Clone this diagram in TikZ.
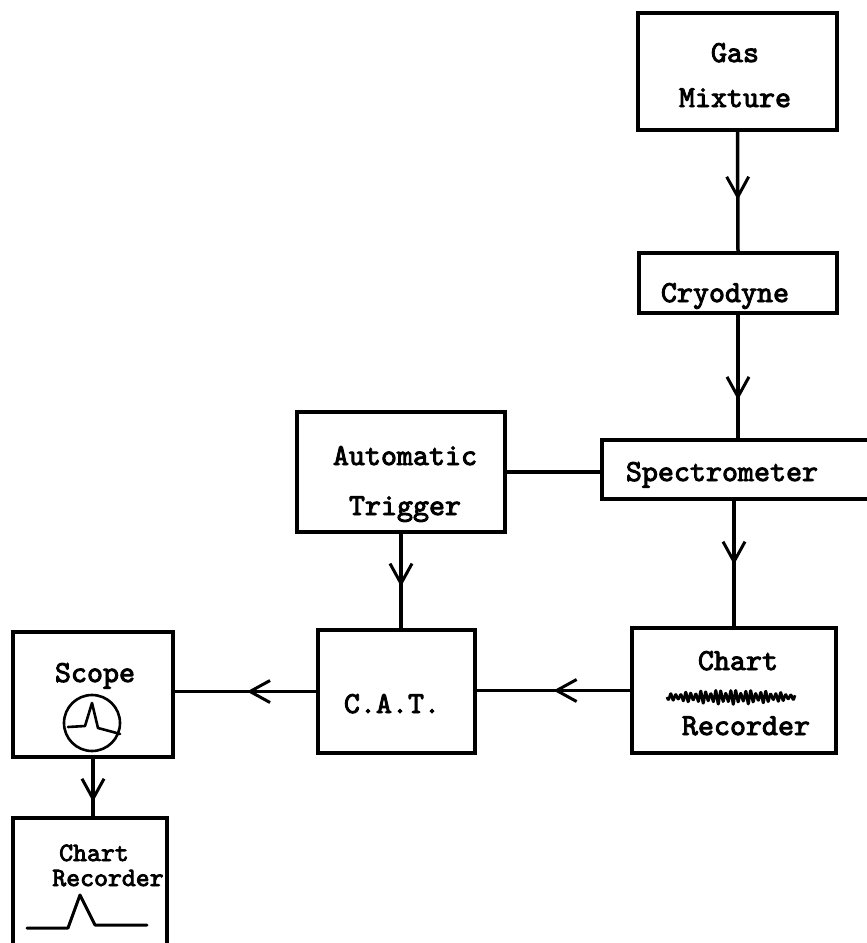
\documentclass[tikz,border=0pt]{standalone}
\usepackage{fontspec}
\newfontfamily\typew[FakeBold=3]{lmmono10-regular.otf}
\usetikzlibrary{arrows.meta,decorations.markings}
\tikzset{
  box/.style={draw, line width=3.5pt, inner sep=0pt},
  lbl/.style={anchor=base, inner sep=0pt, font=\typew\fontsize{30.5}{30}\selectfont},
  lblsmall/.style={anchor=base, inner sep=0pt, font=\typew\fontsize{26.5}{26}\selectfont},
  wire/.style={line width=3.5pt},
  arrowat/.style={postaction={decorate}, decoration={markings,
     mark=at position #1 with {\arrow{Straight Barb[length=20pt,width=22pt,line width=3pt]}}}},
  trace/.style={line width=2.6pt, line join=round, line cap=round}
}
\begin{document}
\begin{tikzpicture}[x=1pt,y=-1pt]
\clip (0,0) rectangle (867,943);
\fill[white] (0,0) rectangle (867,943);

% boxes
\node[box, minimum width=199pt, minimum height=117pt] (gas) at (737.5,71.5) {};
\node[box, minimum width=198pt, minimum height=60pt] (cryo) at (738,283) {};
\node[box, minimum width=298pt, minimum height=59pt] (spec) at (751,469.5) {};
\node[box, minimum width=208pt, minimum height=120pt] (trig) at (401,472) {};
\node[box, minimum width=157pt, minimum height=123pt] (cat) at (396.5,691.5) {};
\node[box, minimum width=204pt, minimum height=125pt] (chart) at (734,690.5) {};
\node[box, minimum width=160pt, minimum height=125pt] (scope) at (93,694.5) {};
\node[box, minimum width=154pt, minimum height=142pt] (chartb) at (90,889) {};

% labels
\node[lbl] (t-gas) at (735,62) {Gas};
\node[lbl] (t-mix) at (735,107) {Mixture};
\node[lbl] (t-cryo) at (725,302) {Cryodyne};
\node[lbl] (t-spec) at (722,481) {Spectrometer};
\node[lbl] (t-auto) at (405,465) {Automatic};
\node[lbl] (t-trig) at (405,515) {Trigger};
\node[lbl] (t-cat) at (392,713) {C.A.T.};
\node[lbl] (t-chart) at (738,670) {Chart};
\node[lbl] (t-rec) at (746,735) {Recorder};
\node[lbl] (t-scope) at (95,682) {Scope};
\node[lblsmall] (t-chartb) at (94,861) {Chart};
\node[lblsmall] (t-recb) at (108,886) {Recorder};

% connectors
\draw[wire, arrowat=0.57] (gas.south) -- (cryo.north);
\draw[wire, arrowat=0.69] (cryo.south) -- (cryo.south |- spec.north);
\draw[wire, arrowat=0.51] (chart.north |- spec.south) -- (chart.north);
\draw[wire] (trig.east) -- (trig.east -| spec.west);
\draw[wire, arrowat=0.56] (trig.south) -- (trig.south |- cat.north);
\draw[wire, arrowat=0.5] (chart.west) -- (chart.west -| cat.east);
\draw[wire, arrowat=0.49] (cat.west) -- (cat.west -| scope.east);
\draw[wire, arrowat=0.75] (scope.south) -- (scope.south |- chartb.north);

% scope screen
\draw[trace] (92,723) circle[radius=28];
\draw[trace] (68,727) -- (85,726) -- (92,703) -- (98,728) -- (113,732) -- (120,734);

% chart recorder trace (noisy)
\draw[line width=2.6pt, line join=round] plot[domain=0:128, samples=300]
  ({667+\x},{697+(3+4.5*sin(\x*1.4))*sin(\x*72)*(0.75+0.25*sin(\x*23))});

% bottom chart recorder peak
\draw[line width=3pt, line join=round, line cap=round]
  (27,928) -- (68,928) -- (80,895) -- (95,925) -- (147,925);
\end{tikzpicture}
\end{document}
